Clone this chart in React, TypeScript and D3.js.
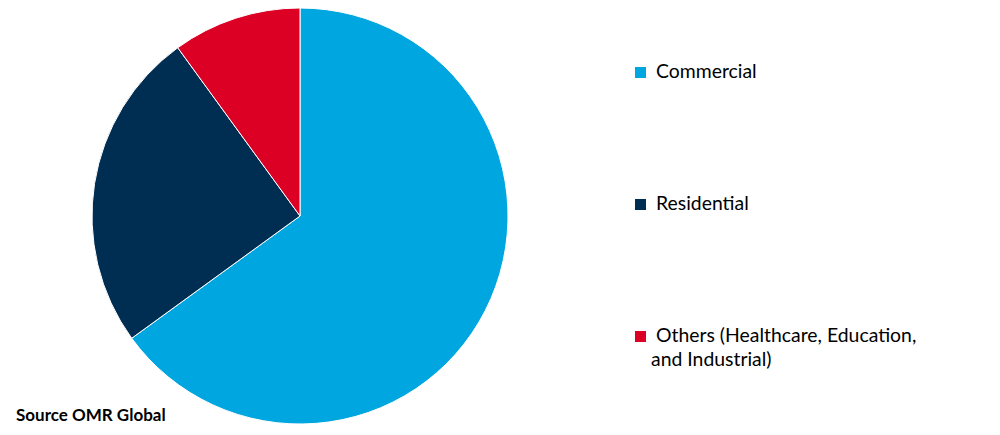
import React, { useEffect, useRef } from 'react';
import * as d3 from 'd3';

const categories = ['Commercial', 'Residential', 'Others (Healthcare, Education, and Industrial)'];
const shares = [65, 25, 10];
const colors = ['#00A6DF', '#002D52', '#DC0025'];
const legendLines = [['Commercial'], ['Residential'], ['Others (Healthcare, Education,', 'and Industrial)']];

export default function App() {
  const svgRef = useRef<SVGSVGElement>(null);

  useEffect(() => {
    if (!svgRef.current) return;
    const svg = d3.select(svgRef.current);
    svg.selectAll('*').remove();

    const width = 1000;
    const height = 435;
    const cx = 300;
    const cy = 216;
    const radius = 208;

    const data = categories.map((c, i) => ({ name: c, value: shares[i], color: colors[i] }));

    const pie = d3.pie<{ name: string; value: number; color: string }>()
      .value(d => d.value)
      .sort(null);
    const arc = d3.arc<d3.PieArcDatum<{ name: string; value: number; color: string }>>()
      .innerRadius(0)
      .outerRadius(radius);

    const g = svg.append('g').attr('transform', `translate(${cx},${cy})`);
    g.selectAll('path')
      .data(pie(data))
      .enter().append('path')
      .attr('d', d => arc(d) as string)
      .attr('fill', d => d.data.color)
      .attr('stroke', '#fff')
      .attr('stroke-width', 1);

    // legend
    const legendY = [72, 204, 336];
    const legend = svg.append('g').style('font-family', 'Lato, "Open Sans", sans-serif');
    data.forEach((d, i) => {
      legend.append('rect')
        .attr('x', 635)
        .attr('y', legendY[i] - 5)
        .attr('width', 11)
        .attr('height', 11)
        .attr('fill', d.color);
      legendLines[i].forEach((line, j) => {
        legend.append('text')
          .attr('x', j === 0 ? 656 : 651)
          .attr('y', legendY[i] + 6 + j * 24)
          .style('font-size', '19.4px')
          .attr('fill', '#000')
          .text(line);
      });
    });

    svg.append('text')
      .attr('x', 16)
      .attr('y', 421)
      .style('font-family', 'Lato, "Open Sans", sans-serif')
      .style('font-size', '17px')
      .style('font-weight', 'bold')
      .attr('fill', '#000')
      .text('Source OMR Global');

    svg.attr('width', width).attr('height', height);
  }, []);

  return (
    <svg ref={svgRef} style={{ position: 'absolute', left: 0, top: 0, display: 'block', background: '#fff' }} />
  );
}
